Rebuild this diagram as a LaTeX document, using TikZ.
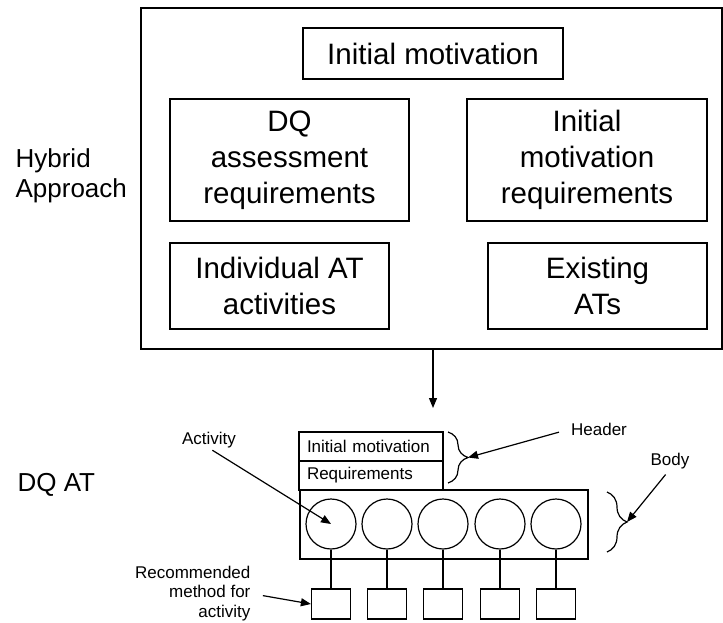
\documentclass[tikz,border=0pt]{standalone}
\usepackage{fontspec}
\setmainfont{Liberation Sans}
\usetikzlibrary{arrows.meta,decorations.pathreplacing}

\begin{document}
\begin{tikzpicture}[
  x=1pt, y=-1pt,
  line width=1.2pt,
  >={Triangle[length=10pt,width=8pt]},
  big/.style={draw, align=center, inner sep=0pt, font=\fontsize{29.5}{36}\selectfont},
  side/.style={align=left, anchor=west, inner sep=0pt, font=\fontsize{26}{30}\selectfont},
  small/.style={inner sep=0pt, font=\fontsize{17}{19.5}\selectfont},
  hbox/.style={draw, small, text width=128pt, align=left, inner xsep=8pt, minimum height=29pt},
  act/.style={draw, circle, minimum size=50pt, inner sep=0pt},
  meth/.style={draw, minimum width=39pt, minimum height=30pt, inner sep=0pt},
  curly/.style={decorate, decoration={brace, amplitude=20pt}}
]
\useasboundingbox (0,0) rectangle (723,622);
\fill[white] (0,0) rectangle (723,622);

% hybrid approach
\node[draw, minimum width=581pt, minimum height=341pt] (outer) at (431.5,178.5) {};
\node[big, minimum width=260pt, minimum height=51pt] (imot) at (433,53.5) {Initial motivation};
\node[big, minimum width=239pt, minimum height=122pt] (dqreq) at (289.5,160) {DQ\\assessment\\requirements};
\node[big, minimum width=240pt, minimum height=122pt] (imreq) at (587,160) {Initial\\motivation\\requirements};
\node[big, minimum width=219pt, minimum height=86pt] (indiv) at (279.5,286) {Individual AT\\activities};
\node[big, minimum width=219pt, minimum height=86pt] (exist) at (597.5,286) {Existing\\ATs};

\node[side] (hyb) at (15,176) {Hybrid\\Approach};
\node[side, anchor=base west] (dqat) at (17,491) {DQ AT};

\coordinate (atip) at (433,408);
\draw[->] (outer.south -| imot.south) -- (atip);

% DQ AT
\node[hbox] (hdra) at (371,446.5) {Initial motivation};
\node[hbox] (hdrb) at (371,475.5) {Requirements};
\node[draw, minimum width=288pt, minimum height=69pt, inner sep=0pt] (body) at (444,524.5) {};

\foreach \x [count=\i] in {331,387,443,500,556} {
  \node[act] (c\i) at (\x,524) {};
  \node[meth] (m\i) at (\x,604) {};
  \draw (c\i.south) -- (m\i.north);
}

\draw[curly] (448,432) -- (448,483);
\draw[curly] (607,492) -- (607,552);
\coordinate (htip) at (468,457.5);
\coordinate (btip) at (627,522);

\node[small, anchor=base] (actl) at (209,444) {Activity};
\node[small, anchor=base] (hdrl) at (599,435) {Header};
\node[small, anchor=base] (bodyl) at (670,465) {Body};
\node[small, align=right, anchor=north east] (recl) at (251,565.5) {Recommended\\method for\\activity};

\draw[->, shorten <=4pt] (actl.south) -- (c1.center);
\draw[->, shorten <=12pt] (hdrl.west) -- (htip);
\draw[->, shorten <=7pt] (bodyl.south) -- (btip);
\draw[->, shorten <=12pt] (recl.east) -- (m1.west);

\end{tikzpicture}
\end{document}
